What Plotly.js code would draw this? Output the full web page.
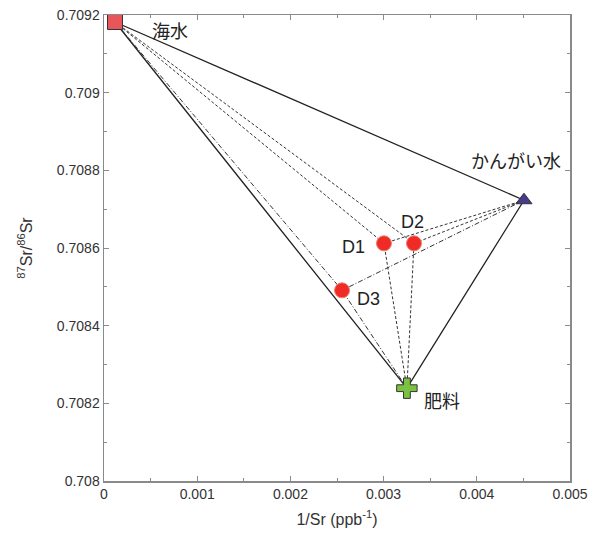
<!DOCTYPE html>
<html><head><meta charset="utf-8">
<script src="https://cdn.plot.ly/plotly-3.0.1.min.js"></script>
<style>html,body{margin:0;padding:0;background:#fff}#c{width:598px;height:533px}</style>
</head><body><div id="c"></div>
<script>
// End-members
const endNames = ['海水', 'かんがい水', '肥料'];
const endX = [0.000118, 0.004506, 0.003250];
const endY = [0.709182, 0.708723, 0.708239];
// Samples
const sampleNames = ['D1', 'D2', 'D3'];
const sampleX = [0.003004, 0.003326, 0.002554];
const sampleY = [0.708612, 0.708612, 0.708491];

const FONT = 'Liberation Sans, Arial, Noto Sans CJK JP, sans-serif';
const traces = [];

// Solid triangle between end-members
traces.push({
  x: [endX[0], endX[1], endX[2], endX[0]],
  y: [endY[0], endY[1], endY[2], endY[0]],
  mode: 'lines', line: {color: '#222', width: 1.3}, hoverinfo: 'skip', showlegend: false
});
// Mixing lines from each end-member to each sample
for (let s = 0; s < sampleX.length; s++) {
  for (let e = 0; e < endX.length; e++) {
    traces.push({
      x: [endX[e], sampleX[s]], y: [endY[e], sampleY[s]],
      mode: 'lines',
      line: {color: '#333', width: 1, dash: s === 2 ? '5px,2px,1px,2px' : '3px,2px'},
      hoverinfo: 'skip', showlegend: false
    });
  }
}
// End-member markers
const symbols = ['square', 'triangle-up', 'cross'];
const colors = ['#e8555a', '#4a3a8e', '#7cc142'];
const sizes = [15, 14, 17];
for (let e = 0; e < endX.length; e++) {
  traces.push({
    x: [endX[e]], y: [endY[e]], mode: 'markers', cliponaxis: false,
    marker: {symbol: symbols[e], color: colors[e], size: sizes[e], line: {color: '#333', width: 1}},
    showlegend: false
  });
}
// Sample markers
traces.push({
  x: sampleX, y: sampleY, mode: 'markers',
  marker: {symbol: 'circle', color: '#ee2b25', size: 15, line: {color: '#f47a70', width: 1}},
  showlegend: false
});

const labelPos = [
  {dx: 35, dy: -8, xa: 'left'},
  {dx: -8, dy: 40, xa: 'center'},
  {dx: 15, dy: -12, xa: 'left'}
];
const sampleLabelPos = [
  {dx: -30, dy: -4}, {dx: -1, dy: 21}, {dx: 26, dy: -9}
];
const annotations = [];
for (let e = 0; e < endX.length; e++) {
  annotations.push({
    x: endX[e], y: endY[e], text: endNames[e], showarrow: false,
    xshift: labelPos[e].dx, yshift: labelPos[e].dy, xanchor: labelPos[e].xa, yanchor: 'middle',
    font: {family: 'Noto Sans CJK JP, sans-serif', size: 18, color: '#222'}
  });
}
for (let s = 0; s < sampleX.length; s++) {
  annotations.push({
    x: sampleX[s], y: sampleY[s], text: sampleNames[s], showarrow: false,
    xshift: sampleLabelPos[s].dx, yshift: sampleLabelPos[s].dy, xanchor: 'center', yanchor: 'middle',
    font: {family: FONT, size: 18, color: '#222'}
  });
}

const axisCommon = {
  showgrid: false, zeroline: false, showline: true, linecolor: '#8a8a8a', linewidth: 1.5,
  mirror: 'ticks', ticks: 'inside', ticklen: 5, tickcolor: '#8a8a8a', tickwidth: 1,
  tickfont: {family: FONT, size: 14, color: '#333'}
};
const layout = {
  width: 598, height: 533,
  margin: {l: 104, r: 28, t: 15, b: 52},
  paper_bgcolor: '#fff', plot_bgcolor: '#fff',
  font: {family: FONT},
  xaxis: Object.assign({}, axisCommon, {
    range: [0, 0.005], tickmode: 'linear', tick0: 0, dtick: 0.001, tickformat: '.3~f',
    minor: {dtick: 0.0005, ticks: 'inside', ticklen: 3, tickcolor: '#8a8a8a'},
    title: {text: '1/Sr (ppb<sup>-1</sup>)', font: {family: FONT, size: 16, color: '#333'}, standoff: 12}
  }),
  yaxis: Object.assign({}, axisCommon, {
    range: [0.708, 0.7092], tickmode: 'linear', tick0: 0.708, dtick: 0.0002, tickformat: '.4~f',
    minor: {dtick: 0.0001, ticks: 'inside', ticklen: 3, tickcolor: '#8a8a8a'},
    title: {text: '<sup>87</sup>Sr/<sup>86</sup>Sr', font: {family: FONT, size: 16, color: '#333'}, standoff: 20}
  }),
  annotations: annotations
};
Plotly.newPlot('c', traces, layout, {displayModeBar: false, staticPlot: true});
</script></body></html>
